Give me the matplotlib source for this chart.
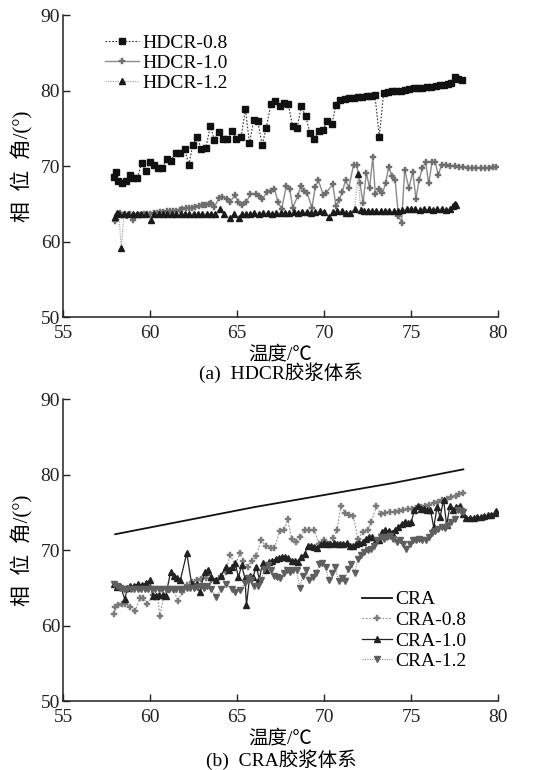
import matplotlib
matplotlib.use("Agg")
import matplotlib.pyplot as plt

# ---------------- data: panel (a) ----------------
hd08_t = [57.94, 58.04, 58.17, 58.37, 58.6, 58.85, 59.04, 59.27, 59.52, 59.75, 60.0, 60.23, 60.48, 60.71,
          60.96, 61.19, 61.48, 61.73, 61.98, 62.23, 62.46, 62.71, 62.94, 63.21, 63.46, 63.69, 63.94, 64.19,
          64.44, 64.71, 64.96, 65.23, 65.48, 65.71, 65.96, 66.19, 66.44, 66.67, 66.94, 67.17, 67.44, 67.69,
          67.94, 68.19, 68.44, 68.69, 68.94, 69.19, 69.44, 69.69, 69.94, 70.19, 70.44, 70.69, 70.94, 71.19,
          71.44, 71.69, 71.94, 72.19, 72.44, 72.69, 72.92, 73.17, 73.42, 73.65, 73.9, 74.15, 74.4, 74.65,
          74.9, 75.15, 75.4, 75.65, 75.9, 76.15, 76.4, 76.65, 76.9, 77.1, 77.3, 77.5, 77.7, 77.9]
hd08_v = [68.5, 69.2, 68.0, 67.7, 68.0, 68.8, 68.4, 68.4, 70.4, 69.3, 70.6, 70.2, 69.8, 69.8,
          71.0, 70.7, 71.8, 71.8, 72.3, 70.2, 72.8, 73.9, 72.2, 72.4, 75.3, 73.5, 74.5, 73.6,
          73.6, 74.7, 73.6, 73.8, 77.6, 73.0, 76.1, 76.0, 72.8, 75.0, 78.2, 78.6, 78.0, 78.3,
          78.2, 75.3, 75.0, 77.9, 76.6, 74.4, 73.6, 74.6, 74.8, 76.0, 75.6, 78.1, 78.8, 78.9,
          79.0, 79.0, 79.1, 79.2, 79.3, 79.3, 79.4, 73.9, 79.7, 79.8, 79.9, 80.0, 80.0, 80.1,
          80.2, 80.3, 80.3, 80.4, 80.5, 80.5, 80.6, 80.7, 80.8, 80.9, 81.0, 81.8, 81.5, 81.4]

hd10_t = [58.0, 58.09, 58.18, 58.28, 58.4, 58.55, 58.7, 58.85, 59.01, 59.15, 59.29, 59.45, 59.65, 59.85,
          60.02, 60.2, 60.39, 60.55, 60.76, 60.95, 61.12, 61.3, 61.49, 61.7, 61.86, 62.05, 62.23, 62.4,
          62.6, 62.8, 62.96, 63.1, 63.24, 63.4, 63.51, 63.7, 63.97, 64.16, 64.43, 64.62, 64.89, 65.08,
          65.26, 65.54, 65.77, 66.09, 66.27, 66.45, 66.73, 66.97, 67.15, 67.34, 67.56, 67.83, 68.02, 68.2,
          68.48, 68.66, 68.84, 69.03, 69.3, 69.49, 69.67, 69.95, 70.13, 70.5, 70.68, 70.87, 71.05, 71.23,
          71.42, 71.69, 71.88, 72.06, 72.24, 72.43, 72.61, 72.8, 72.94, 73.16, 73.35, 73.53, 73.71, 73.9,
          74.08, 74.27, 74.45, 74.63, 74.87, 75.09, 75.28, 75.46, 75.64, 75.83, 76.01, 76.2, 76.38, 76.56,
          76.75, 77.0, 77.25, 77.5, 77.75, 78.0, 78.25, 78.5, 78.75, 79.0, 79.25, 79.5, 79.7, 79.9]
hd10_v = [62.7, 63.4, 63.6, 63.8, 63.5, 63.6, 63.4, 63.6, 62.8, 63.4, 63.5, 63.5, 63.6, 63.7,
          63.7, 63.8, 63.8, 63.9, 63.9, 64.0, 64.0, 64.1, 64.1, 64.2, 64.3, 64.4, 64.5, 64.5,
          64.6, 64.7, 64.8, 64.9, 64.9, 65.0, 65.1, 64.6, 65.8, 65.9, 65.7, 65.3, 66.2, 65.2,
          64.8, 65.3, 66.3, 66.3, 66.0, 65.6, 66.6, 66.7, 67.0, 65.3, 64.3, 67.4, 67.0, 64.5,
          66.0, 67.4, 66.7, 66.4, 64.5, 67.2, 68.1, 66.2, 66.5, 67.6, 64.7, 65.5, 66.6, 68.1,
          67.1, 70.2, 70.1, 67.7, 65.1, 69.1, 67.1, 71.2, 66.3, 66.9, 66.4, 67.7, 69.9, 68.7,
          68.2, 63.4, 62.5, 69.5, 67.1, 69.2, 65.7, 68.2, 69.7, 70.5, 67.7, 70.5, 70.6, 68.8,
          70.2, 70.2, 70.0, 70.0, 69.9, 69.9, 69.8, 69.8, 69.8, 69.7, 69.7, 69.8, 69.9, 69.9]

hd12_t = [58.0, 58.1, 58.2, 58.35, 58.5, 58.75, 59.0, 59.25, 59.5, 59.75, 60.05, 60.25, 60.5, 60.75,
          61.0, 61.25, 61.5, 61.75, 62.0, 62.25, 62.5, 62.75, 63.0, 63.25, 63.5, 63.75, 64.0, 64.25,
          64.6, 64.8, 65.1, 65.3, 65.5, 65.75, 66.0, 66.25, 66.5, 66.75, 67.0, 67.25, 67.5, 67.75,
          68.0, 68.25, 68.5, 68.75, 69.0, 69.25, 69.5, 69.75, 70.0, 70.3, 70.5, 70.75, 71.0, 71.25,
          71.5, 71.75, 71.95, 72.1, 72.3, 72.5, 72.75, 73.0, 73.25, 73.5, 73.75, 74.0, 74.25, 74.5,
          74.75, 75.0, 75.25, 75.5, 75.75, 76.0, 76.25, 76.5, 76.75, 77.0, 77.25, 77.4, 77.5, 77.6]
hd12_v = [63.2, 63.8, 63.7, 59.2, 63.6, 63.7, 63.7, 63.6, 63.7, 63.7, 62.9, 63.7, 63.6, 63.7,
          63.6, 63.7, 63.6, 63.7, 63.7, 63.6, 63.7, 63.7, 63.6, 63.7, 63.7, 63.7, 64.3, 63.6,
          63.1, 63.7, 63.1, 63.6, 63.7, 63.7, 63.8, 63.7, 63.8, 63.8, 63.7, 63.8, 63.8, 63.8,
          63.8, 63.9, 63.8, 63.9, 63.9, 63.8, 63.9, 64.0, 63.9, 63.2, 63.9, 64.1, 64.0, 63.8,
          63.8, 64.3, 68.9, 64.2, 64.1, 64.0, 64.1, 64.0, 64.0, 64.1, 64.0, 64.0, 64.1, 64.2,
          64.3, 64.3, 64.3, 64.2, 64.3, 64.3, 64.2, 64.3, 64.3, 64.2, 64.3, 64.7, 65.0, 64.9]

# ---------------- data: panel (b) ----------------
cra_t = [58.0, 60.0, 62.0, 64.0, 66.0, 68.0, 70.0, 72.0, 74.0, 76.0, 78.0]
cra_v = [72.1, 73.0, 73.9, 74.8, 75.7, 76.5, 77.3, 78.1, 78.9, 79.8, 80.7]

c08_t = [57.95, 58.0, 58.18, 58.4, 58.58, 58.86, 59.14, 59.42, 59.6, 59.85, 60.16, 60.44, 60.57, 60.77,
         61.09, 61.37, 61.59, 61.83, 62.11, 62.39, 62.67, 62.94, 63.22, 63.5, 63.78, 64.06, 64.34, 64.61,
         64.89, 65.17, 65.36, 65.6, 65.86, 66.1, 66.38, 66.65, 66.93, 67.15, 67.45, 67.71, 67.9, 68.14,
         68.38, 68.64, 68.88, 69.16, 69.44, 69.71, 69.99, 70.27, 70.49, 70.74, 70.96, 71.2, 71.44, 71.68,
         71.94, 72.22, 72.5, 72.72, 73.0, 73.24, 73.52, 73.8, 74.05, 74.3, 74.55, 74.8, 75.05, 75.3,
         75.55, 75.8, 76.05, 76.3, 76.55, 76.8, 77.05, 77.3, 77.55, 77.75, 77.97]
c08_v = [61.5, 62.4, 62.7, 62.8, 62.9, 62.5, 61.9, 63.7, 63.7, 62.8, 64.0, 63.8, 61.2, 63.8,
         64.7, 64.7, 63.3, 64.4, 65.4, 65.8, 66.0, 66.2, 66.3, 66.1, 65.9, 66.5, 67.1, 69.4,
         68.0, 69.6, 68.6, 67.8, 68.6, 69.2, 71.3, 70.6, 70.3, 70.3, 72.5, 72.6, 74.1, 71.5,
         71.1, 71.7, 72.7, 72.7, 72.7, 70.8, 71.3, 70.8, 71.6, 72.6, 75.9, 74.9, 74.6, 74.5,
         71.5, 72.4, 72.7, 73.7, 75.8, 74.8, 74.9, 75.0, 75.1, 75.2, 75.3, 75.4, 75.5, 75.6,
         75.7, 75.9, 76.0, 76.2, 76.4, 76.6, 76.8, 77.0, 77.2, 77.4, 77.6]

c10_t = [57.95, 58.12, 58.3, 58.55, 58.7, 58.86, 59.05, 59.33, 59.51, 59.79, 59.98, 60.16, 60.35, 60.53,
         60.72, 60.9, 61.18, 61.37, 61.55, 61.74, 62.11, 62.39, 62.67, 62.85, 63.13, 63.31, 63.5, 63.78,
         64.06, 64.34, 64.52, 64.71, 64.89, 65.08, 65.26, 65.45, 65.54, 65.73, 65.91, 66.1, 66.28, 66.47,
         66.65, 66.84, 67.03, 67.21, 67.4, 67.58, 67.77, 67.95, 68.14, 68.32, 68.51, 68.69, 68.88, 69.07,
         69.25, 69.44, 69.62, 69.81, 69.99, 70.18, 70.36, 70.55, 70.74, 70.92, 71.11, 71.29, 71.48, 71.66,
         71.85, 72.03, 72.22, 72.4, 72.59, 72.78, 72.96, 73.15, 73.33, 73.52, 73.7, 73.89, 74.07, 74.26,
         74.45, 74.63, 74.82, 75.0, 75.19, 75.37, 75.56, 75.74, 75.93, 76.11, 76.3, 76.49, 76.67, 76.86,
         77.04, 77.23, 77.41, 77.6, 77.78, 77.97, 78.16, 78.4, 78.6, 78.8, 79.0, 79.2, 79.4, 79.6,
         79.8, 79.9]
c10_v = [65.5, 65.1, 65.2, 63.5, 65.0, 65.3, 65.3, 65.5, 65.4, 65.6, 66.0, 63.9, 63.9, 64.0,
         64.0, 63.9, 67.1, 66.5, 66.3, 66.0, 69.6, 65.5, 65.5, 64.4, 67.1, 67.3, 66.4, 66.1,
         66.5, 67.8, 67.3, 67.7, 68.3, 66.4, 68.0, 66.3, 62.7, 66.6, 66.4, 67.8, 66.2, 68.3,
         67.4, 68.4, 68.6, 68.8, 69.0, 69.1, 69.1, 68.9, 68.6, 68.6, 68.4, 69.1, 69.5, 70.6,
         70.6, 70.4, 70.3, 70.8, 70.9, 70.8, 70.8, 70.9, 70.8, 70.8, 70.8, 70.9, 70.6, 70.5,
         70.8, 70.9, 71.1, 71.5, 71.8, 71.7, 71.3, 71.3, 72.4, 72.7, 72.5, 72.2, 72.7, 73.0,
         73.5, 73.7, 73.6, 73.7, 75.3, 75.9, 75.5, 75.4, 75.3, 75.3, 73.0, 75.7, 74.4, 76.7,
         73.3, 75.9, 75.3, 75.7, 75.9, 74.8, 74.3, 74.3, 74.3, 74.4, 74.4, 74.5, 74.6, 74.7,
         74.9, 75.2]

c12_t = [57.95, 58.1, 58.3, 58.5, 58.7, 58.9, 59.1, 59.3, 59.5, 59.7, 59.9, 60.1, 60.3, 60.5,
         60.7, 60.9, 61.1, 61.3, 61.5, 61.7, 61.9, 62.1, 62.3, 62.5, 62.7, 62.9, 63.1, 63.3,
         63.5, 63.8, 64.06, 64.34, 64.71, 64.89, 65.17, 65.45, 65.64, 65.82, 66.0, 66.19, 66.38, 66.56,
         66.75, 66.93, 67.12, 67.3, 67.49, 67.67, 67.86, 68.05, 68.23, 68.42, 68.6, 68.79, 68.97, 69.16,
         69.35, 69.53, 69.72, 69.9, 70.09, 70.27, 70.46, 70.64, 70.83, 71.01, 71.2, 71.38, 71.57, 71.75,
         71.94, 72.13, 72.31, 72.5, 72.68, 72.87, 73.05, 73.24, 73.42, 73.61, 73.79, 73.98, 74.16, 74.35,
         74.54, 74.72, 74.91, 75.09, 75.28, 75.46, 75.65, 75.83, 76.02, 76.2, 76.39, 76.57, 76.76, 76.94,
         77.13, 77.31, 77.5, 77.68, 77.87, 77.97]
c12_v = [65.5, 65.2, 65.0, 64.9, 64.8, 64.8, 64.8, 64.8, 64.8, 64.8, 64.8, 64.8, 64.8, 64.8,
         64.8, 64.8, 64.8, 64.9, 64.9, 64.9, 64.9, 65.0, 65.0, 65.0, 65.1, 65.2, 65.0, 65.3,
         64.9, 63.8, 64.8, 65.5, 64.9, 64.4, 64.7, 65.6, 66.3, 66.0, 65.2, 65.3, 66.0, 67.5,
         68.0, 67.3, 66.6, 66.4, 66.3, 66.9, 67.4, 67.1, 67.4, 67.3, 65.0, 66.6, 67.3, 66.1,
         66.4, 66.9, 68.1, 68.3, 67.8, 66.1, 66.9, 67.8, 65.9, 66.3, 65.9, 67.5, 68.1, 67.0,
         68.8, 69.3, 69.7, 69.95, 70.2, 70.6, 71.3, 71.8, 71.5, 71.7, 71.9, 71.5, 71.1, 71.4,
         70.8, 70.2, 70.8, 71.3, 71.4, 71.5, 71.3, 71.4, 71.7, 72.2, 72.5, 72.8, 73.0, 72.9,
         73.3, 73.7, 74.1, 75.3, 75.2, 75.0]

x_ticks = [55, 60, 65, 70, 75, 80]
y_ticks = [50, 60, 70, 80, 90]
xlabel = "温度/℃"
ylabel = "相  位  角/(°)"
caption_a = "(a)  HDCR胶浆体系"
caption_b = "(b)  CRA胶浆体系"

FAM = ["Liberation Serif", "Noto Sans CJK SC"]
plt.rcParams["font.family"] = FAM
plt.rcParams["mathtext.fontset"] = "stix"

fig = plt.figure(figsize=(5.46, 7.70), dpi=100)
L, W, H = 0.1154, 0.797, 0.392
ax1 = fig.add_axes([L, 0.5883, W, H])
ax2 = fig.add_axes([L, 0.0896, W, H])

def style(ax):
    ax.set_xlim(55, 80)
    ax.set_ylim(50, 90)
    ax.set_xticks(x_ticks)
    ax.set_yticks(y_ticks)
    for s in ["top", "right"]:
        ax.spines[s].set_visible(False)
    for s in ["left", "bottom"]:
        ax.spines[s].set_linewidth(1.1)
        ax.spines[s].set_color("#222222")
    ax.tick_params(direction="in", length=5, width=1.0, labelsize=14, colors="#222222")
    ax.tick_params(axis="x", pad=6)
    ax.tick_params(axis="y", pad=2)
    for lab in ax.get_xticklabels() + ax.get_yticklabels():
        lab.set_family(FAM)
    ax.set_ylabel(ylabel, fontsize=15, family=FAM, labelpad=5)
    ax.set_xlabel(xlabel, fontsize=14, family=FAM, labelpad=2)

# panel a
ax1.plot(hd08_t, hd08_v, linestyle=(0, (1.5, 1.5)), color="#333333", linewidth=0.8,
         marker="s", markersize=4.2, markerfacecolor="#111111", markeredgecolor="#111111",
         label="HDCR-0.8")
ax1.plot(hd10_t, hd10_v, linestyle="-", color="#8a8a8a", linewidth=1.0,
         marker="P", markersize=4.2, markerfacecolor="#6e6e6e", markeredgecolor="#6e6e6e",
         markeredgewidth=0.3, label="HDCR-1.0")
ax1.plot(hd12_t, hd12_v, linestyle=(0, (1, 1.2)), color="#9a9a9a", linewidth=0.8,
         marker="^", markersize=4.5, markerfacecolor="#1a1a1a", markeredgecolor="#1a1a1a",
         label="HDCR-1.2")
style(ax1)
ax1.legend(loc="upper left", bbox_to_anchor=(0.097, 0.937), frameon=False,
           handlelength=1.75, handletextpad=0.15, labelspacing=0.12, borderaxespad=0, borderpad=0,
           prop={"family": FAM, "size": 14})
fig.text(0.515, 0.516, caption_a, ha="center", va="center", fontsize=14, family=FAM)

# panel b
ax2.plot(cra_t, cra_v, linestyle="-", color="#111111", linewidth=1.3, label="CRA")
ax2.plot(c08_t, c08_v, linestyle=(0, (1.5, 1.5)), color="#8a8a8a", linewidth=0.8,
         marker="P", markersize=3.8, markerfacecolor="#7a7a7a", markeredgecolor="#7a7a7a",
         markeredgewidth=0.3, label="CRA-0.8")
ax2.plot(c10_t, c10_v, linestyle="-", color="#222222", linewidth=0.9,
         marker="^", markersize=4.8, markerfacecolor="#222222", markeredgecolor="#222222",
         label="CRA-1.0")
ax2.plot(c12_t, c12_v, linestyle=(0, (1, 1.2)), color="#8a8a8a", linewidth=0.8,
         marker="v", markersize=5.0, markerfacecolor="#5f5f5f", markeredgecolor="#5f5f5f",
         label="CRA-1.2")
style(ax2)
ax2.legend(loc="upper left", bbox_to_anchor=(0.687, 0.365), frameon=False,
           handlelength=1.55, handletextpad=0.15, labelspacing=0.15, borderaxespad=0, borderpad=0,
           prop={"family": FAM, "size": 14})
fig.text(0.515, 0.013, caption_b, ha="center", va="center", fontsize=14, family=FAM)

fig.savefig("out.png", dpi=100)
